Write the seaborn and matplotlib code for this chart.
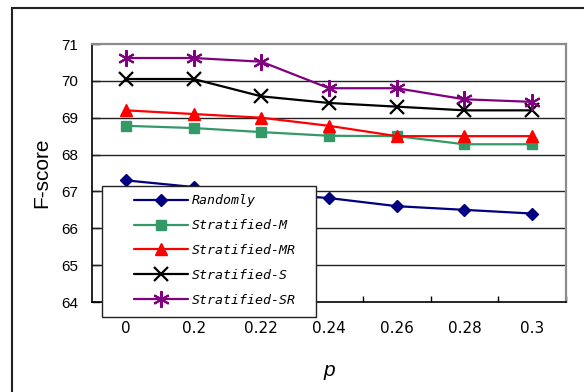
import matplotlib
matplotlib.use("Agg")
import matplotlib.pyplot as plt
from matplotlib.patches import Rectangle
from matplotlib.ticker import FixedLocator
import seaborn as sns
import pandas as pd

p_labels = ["0", "0.2", "0.22", "0.24", "0.26", "0.28", "0.3"]
randomly = [67.3, 67.12, 66.95, 66.82, 66.6, 66.5, 66.4]
strat_m = [68.78, 68.72, 68.61, 68.51, 68.5, 68.28, 68.28]
strat_mr = [69.2, 69.1, 69.0, 68.78, 68.5, 68.5, 68.5]
strat_s = [70.05, 70.05, 69.58, 69.4, 69.3, 69.2, 69.2]
strat_sr = [70.62, 70.62, 70.52, 69.8, 69.8, 69.5, 69.43]
series_names = ["Randomly", "Stratified-M", "Stratified-MR", "Stratified-S", "Stratified-SR"]
y_ticks = [64, 65, 66, 67, 68, 69, 70, 71]

series_values = [randomly, strat_m, strat_mr, strat_s, strat_sr]
colors = ["#000080", "#339966", "#ff0000", "#000000", "#800080"]
markers = ["D", "s", "^", "x", (6, 2, 0)]
msizes = [6.5, 7, 8, 10, 12]
mews = [1, 1, 1, 1.6, 1.5]

sns.set_style("white")
plt.rcParams.update({"text.color": "black", "axes.labelcolor": "black",
                     "xtick.color": "black", "ytick.color": "black"})
fig = plt.figure(figsize=(5.84, 3.92), dpi=100)
ax = fig.add_axes([92/584, 1-302/392, (566-92)/584, (302-44)/392])

pos = list(range(len(p_labels)))
for name, vals, c, m, ms, mew in zip(series_names, series_values, colors, markers, msizes, mews):
    df = pd.DataFrame({"x": pos, "F": vals})
    sns.lineplot(data=df, x="x", y="F", ax=ax, color=c, marker=m, markersize=ms,
                 markeredgecolor=c, markerfacecolor=c, markeredgewidth=mew,
                 linewidth=1.6, label=name, zorder=3)

ax.set_xlim(-0.5, len(p_labels) - 0.5)
ax.set_ylim(64, 71)
ax.set_xticks(pos)
ax.set_xticklabels(p_labels, fontfamily="DejaVu Sans", fontsize=11, color="black")
ax.xaxis.set_minor_locator(FixedLocator([i + 0.5 for i in pos]))
ax.tick_params(axis="x", which="major", length=0, pad=14)
ax.tick_params(axis="x", which="minor", direction="in", length=4.5, width=1, color="black", bottom=True)
ax.set_yticks(y_ticks)
ax.set_yticklabels([str(v) for v in y_ticks], fontfamily="Liberation Sans", fontsize=11, color="black")
ax.tick_params(axis="y", direction="in", length=6, width=1, color="black", pad=10, left=True)

for v in y_ticks[1:-1]:
    ax.axhline(v, color="#222222", linewidth=1, zorder=1)

for s in ["left", "bottom"]:
    ax.spines[s].set_color("black")
    ax.spines[s].set_linewidth(1.2)
for s in ["top", "right"]:
    ax.spines[s].set_color("#8c8c8c")
    ax.spines[s].set_linewidth(1.6)

ax.set_xlabel("p", fontfamily="Liberation Sans", fontstyle="italic", fontsize=15, labelpad=18, color="black")
ax.set_ylabel("F-score", fontfamily="Liberation Sans", fontsize=15, labelpad=7, color="black")

# legend box
rect = Rectangle((0.021, -0.058), 0.452, 0.509, transform=ax.transAxes, facecolor="white",
                 edgecolor="#222222", linewidth=1, zorder=10, clip_on=False)
ax.add_patch(rect)
leg = ax.legend(loc="upper left", bbox_to_anchor=(0.075, 0.443), frameon=False, borderpad=0,
                handlelength=4.1, handletextpad=0.3, labelspacing=0.9,
                prop={"family": "DejaVu Sans Mono", "style": "italic", "size": 9.5})
leg.set_zorder(11)
for t in leg.get_texts():
    t.set_color("black")

# outer frame
fig.patches.append(Rectangle((12/584, -0.2), 2, 1 - 8/392 + 0.2, transform=fig.transFigure,
                             facecolor="none", edgecolor="#222222", linewidth=1.5, figure=fig))

fig.savefig("out.png", dpi=100)
